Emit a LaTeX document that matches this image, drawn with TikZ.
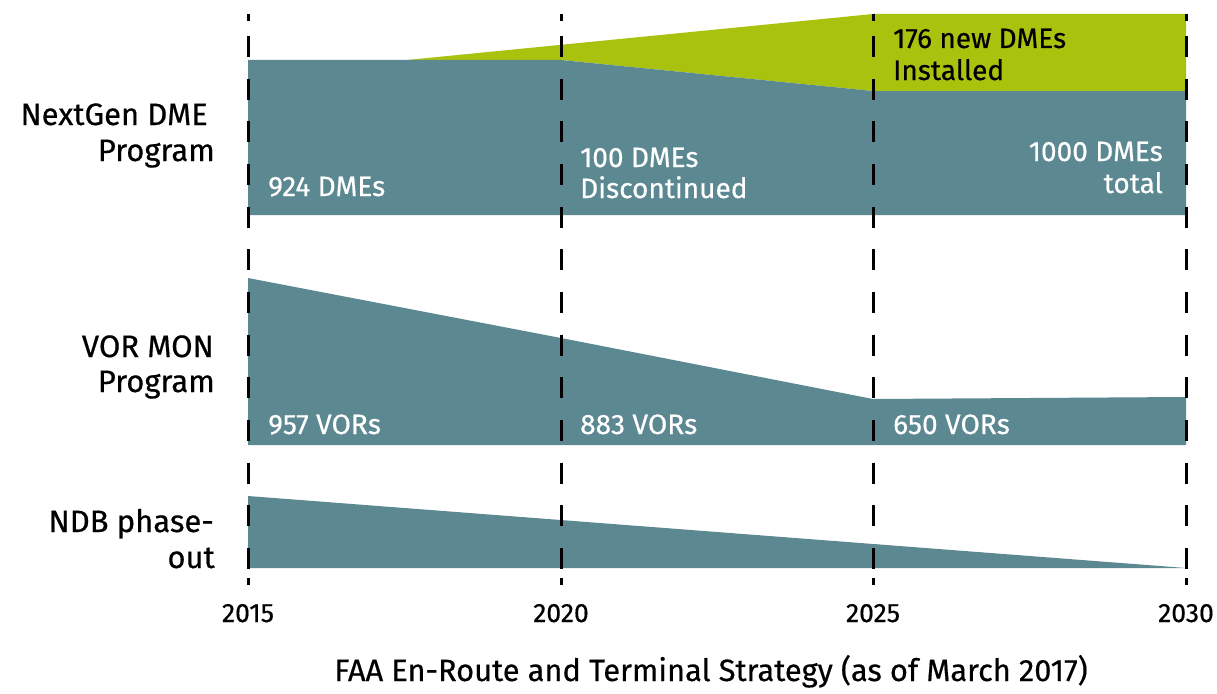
\documentclass[tikz,border=0pt]{standalone}
\usepackage{fontspec}
\setmainfont{Fira Sans}[FakeBold=0.5]
\definecolor{tealfill}{RGB}{91,136,145}
\definecolor{limefill}{RGB}{168,194,14}
\begin{document}
\begin{tikzpicture}[x=1pt,y=-1pt,
  rowlabel/.style={inner sep=0pt, anchor=base east, text=black, font=\fontsize{31}{35}\selectfont},
  inlabel/.style={inner sep=0pt, anchor=base west, text=white, font=\fontsize{28}{32}\selectfont},
  inlabelr/.style={inlabel, anchor=base east},
  yearlabel/.style={inner sep=0pt, anchor=base, text=black, font=\fontsize{26.5}{30}\selectfont},
  titlelabel/.style={inner sep=0pt, anchor=base, text=black, font=\fontsize{30.8}{34}\selectfont},
  yearline/.style={black, line width=3pt,
    dash pattern=on 7pt off 15pt on 21pt off 21.67pt on 21pt off 21.67pt on 21pt off 21.67pt on 21pt off 21.67pt on 21pt off 21.67pt on 21pt off 21.67pt on 21pt off 21.67pt on 21pt off 21.67pt on 21pt off 21.67pt on 21pt off 21.67pt on 21pt off 21.67pt on 21pt off 21.67pt on 21pt off 9pt on 7pt off 100pt}]
\useasboundingbox (0,0) rectangle (1217,693);
% areas
\fill[limefill] (407,60) -- (873,14) -- (1186,14) -- (1186,91) -- (873,91) -- (561,60) -- cycle;
\fill[tealfill] (248,60) -- (561,60) -- (873,91) -- (1186,91) -- (1186,215) -- (248,215) -- cycle;
\fill[tealfill] (248,278) -- (561,338) -- (873,399) -- (1186,397) -- (1186,445) -- (248,445) -- cycle;
\fill[tealfill] (248,496) -- (1186,568) -- (248,568) -- cycle;
% year lines
\foreach \xx/\nm in {248/a,561/b,873/c,1186/d}{
  \coordinate (top\nm) at (\xx,14);
  \coordinate (bot\nm) at (\xx,585);
  \draw[yearline] (top\nm) -- (bot\nm);
}
% row labels
\node[rowlabel] (dme1) at (208,125) {NextGen DME};
\node[rowlabel] (dme2) at (215,161) {Program};
\node[rowlabel] (vor1) at (214,357) {VOR MON};
\node[rowlabel] (vor2) at (215,392) {Program};
\node[rowlabel] (ndb1) at (214,532) {NDB phase-};
\node[rowlabel] (ndb2) at (215,568) {out};
% in-area labels
\node[inlabel] (l924) at (268,196) {924 DMEs};
\node[inlabel] (l100a) at (580,167) {100 DMEs};
\node[inlabel] (l100b) at (580,198) {Discontinued};
\node[inlabelr] (l1000a) at (1163,161) {1000 DMEs};
\node[inlabelr] (l1000b) at (1163,193) {total};
\node[inlabel, text=black] (l176a) at (893,48) {176 new DMEs};
\node[inlabel, text=black] (l176b) at (893,80) {Installed};
\node[inlabel] (v957) at (268,434) {957 VORs};
\node[inlabel] (v883) at (580,434) {883 VORs};
\node[inlabel] (v650) at (893,434) {650 VORs};
% years
\node[yearlabel] (y2015) at (248,622) {2015};
\node[yearlabel] (y2020) at (561,622) {2020};
\node[yearlabel] (y2025) at (873,622) {2025};
\node[yearlabel] (y2030) at (1186,622) {2030};
% title
\node[titlelabel] (title) at (711,681) {FAA En-Route and Terminal Strategy (as of March 2017)};
\end{tikzpicture}
\end{document}
